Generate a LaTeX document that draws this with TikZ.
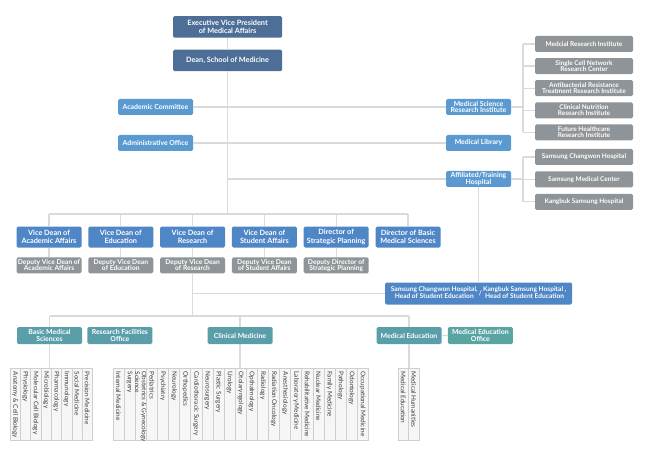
\documentclass[tikz,border=0pt]{standalone}
\usepackage{fontspec}
\setmainfont{Lato}
\usetikzlibrary{positioning,calc}
\definecolor{chief}{HTML}{4D6E96}
\definecolor{vdean}{HTML}{4E86C6}
\definecolor{sideunit}{HTML}{5A9AD1}
\definecolor{affil}{HTML}{8E9497}
\definecolor{school}{HTML}{5A9EAA}
\definecolor{office}{HTML}{5AA4A2}
\definecolor{wire}{HTML}{DADADA}
\definecolor{colfill}{HTML}{F6F6F6}
\definecolor{colline}{HTML}{CFCFCF}
\definecolor{deptink}{HTML}{3C3C3C}
\tikzset{
  every node/.style={font=\fontsize{7.3}{8.6}\selectfont\bfseries,text=white},
  box/.style={rounded corners=1.5pt,fill=vdean,align=center,inner sep=1pt,minimum width=65pt,minimum height=21pt},
  chiefbox/.style={box,fill=chief,minimum width=109pt,minimum height=21.5pt},
  sidebox/.style={box,fill=sideunit,minimum height=16pt,font=\fontsize{6.9}{6.4}\selectfont\bfseries},
  affilbox/.style={box,fill=affil,minimum width=98pt,minimum height=16pt,font=\fontsize{6.5}{6.1}\selectfont\bfseries},
  deputy/.style={box,fill=affil,minimum height=16pt,font=\fontsize{6.7}{6.2}\selectfont\bfseries},
  schoolbox/.style={box,fill=school,minimum height=17pt,font=\fontsize{6.9}{6.6}\selectfont\bfseries},
  link/.style={draw=wire,line width=1.2pt},
  deptcol/.style={draw=colline,fill=colfill,line width=0.5pt},
  dept/.style={rotate=-90,anchor=west,inner sep=0pt,align=left,text=deptink,font=\fontsize{6.4}{5}\selectfont},
}

\begin{document}
\begin{tikzpicture}[x=1pt,y=-1pt,node distance=6pt and 6.4pt]
\useasboundingbox (0,0) rectangle (650,457);

\node[chiefbox] (evp) at (227.5,27) {Executive Vice President\\of Medical Affairs};
\node[chiefbox] (dean) at (227.5,60.5) {Dean, School of Medicine};

\node[sidebox,minimum width=75pt] (ac) at (155.5,107) {Academic Committee};
\node[sidebox,minimum width=75pt] (ao) at (155.5,143) {Administrative Office};
\node[sidebox] (msri) at (478.5,107) {Medical Science\\Research Institute};
\node[sidebox] (lib) at (478.5,143) {Medical Library};
\node[sidebox] (ath) at (478.5,179) {Affiliated/Training\\Hospital};

\node[affilbox] (ri1) at (584,44) {Medcial Research Institute};
\node[affilbox,below=5.7pt of ri1] (ri2) {Single Cell Network\\Research Center};
\node[affilbox,below=5.7pt of ri2] (ri3) {Antibacterial Resistance\\Treatment Research Institute};
\node[affilbox,below=5.7pt of ri3] (ri4) {Clinical Nutrition\\Research Institute};
\node[affilbox,below=5.7pt of ri4] (ri5) {Future Healthcare\\Research Institute};
\node[affilbox] (hp1) at (584,157) {Samsung Changwon Hospital};
\node[affilbox,below=of hp1] (hp2) {Samsung Medical Center};
\node[affilbox,below=of hp2] (hp3) {Kangbuk Samsung Hospital};

\node[box] (vd1) at (49,237) {Vice Dean of\\Academic Affairs};
\node[box,right=of vd1] (vd2) {Vice Dean of\\Education};
\node[box,right=of vd2] (vd3) {Vice Dean of\\Research};
\node[box,right=of vd3] (vd4) {Vice Dean of\\Student Affairs};
\node[box,right=of vd4] (vd5) {Director of\\Strategic Planning};
\node[box,right=of vd5] (vd6) {Director of Basic\\Medical Sciences};
\node[deputy,below=9.5pt of vd1] (dp1) {Deputy Vice Dean of\\Academic Affairs};
\node[deputy,below=9.5pt of vd2] (dp2) {Deputy Vice Dean\\of Education};
\node[deputy,below=9.5pt of vd3] (dp3) {Deputy Vice Dean\\of Research};
\node[deputy,below=9.5pt of vd4] (dp4) {Deputy Vice Dean\\of Student Affairs};
\node[deputy,below=9.5pt of vd5] (dp5) {Deputy Director of\\Strategic Planning};

\node[box,minimum width=187pt,minimum height=22pt,font=\fontsize{6.6}{7}\selectfont\bfseries] (head) at (478.5,293.5)
  {\begin{tabular}{@{}c@{}}Samsung Changwon Hospital,\\Head of Student Education\end{tabular}\,/\,\begin{tabular}{@{}c@{}}Kangbuk Samsung Hospital ,\\Head of Student Education\end{tabular}};

\node[schoolbox] (bms) at (49.5,335.5) {Basic Medical\\Sciences};
\node[schoolbox,right=5pt of bms] (rfo) {Research Facilities\\Office};
\node[schoolbox] (cm) at (240,335.5) {Clinical Medicine};
\node[schoolbox] (med) at (409,335.5) {Medical Education};
\node[schoolbox,fill=office,right=6pt of med] (meo) {Medical Education\\Office};

\coordinate (vbar) at (0,214);
\coordinate (sbar) at (0,316);
\coordinate (rbar) at (523,0);
\coordinate (coltop) at (0,368);

\draw[link] (evp) -- (dean);
\draw[link] (dean.south) -- (dean.south |- vbar);
\draw[link] (ac.east) -- (msri.west);
\draw[link] (ao.east) -- (lib.west);
\draw[link] (ath.west) -- (ath.west -| dean.south);
\draw[link] (msri.east) -- (msri.east -| rbar);
\draw[link] (ath.east) -- (ath.east -| rbar);
\draw[link] (ri1.west -| rbar) -- (ri5.west -| rbar);
\draw[link] (hp1.west -| rbar) -- (hp3.west -| rbar);
\foreach \n in {ri1,ri2,ri3,ri4,ri5,hp1,hp2,hp3}{\draw[link] (\n.west) -- (\n.west -| rbar);}
\draw[link] (vd1.north |- vbar) -- (vd6.north |- vbar);
\foreach \i in {1,...,6}{\draw[link] (vd\i.north) -- (vd\i.north |- vbar);}
\foreach \i in {1,...,5}{\draw[link] (vd\i.south) -- (dp\i.north);}
\draw[link] (dp3.south) -- (dp3.south |- sbar);
\draw[link] (head.west) -- (head.west -| dp3.south);
\draw[link] (ath.south) -- (head.north -| ath.south);
\draw[link] (bms.north |- sbar) -- (med.north |- sbar);
\foreach \n in {bms,cm,med}{\draw[link] (\n.north) -- (\n.north |- sbar);}
\draw[link] (med.east) -- (meo.west);
\foreach \n in {bms,cm,med}{\draw[link] (\n.south) -- (\n.south |- coltop);}

\foreach \dname [count=\i] in {Anatomy \& Cell Biology,Physiology,Molecular Cell Biology,Microbiology,Pharmacology,Immunology,Social Medicine,Precision Medicine}{
  \pgfmathsetmacro\cx{10+(\i-1)*10.3}
  \draw[deptcol] (\cx,368) rectangle ++(10.3,72);
  \node[dept] (bd\i) at (\cx+5.15,371.5) {\dname};
}
\foreach \dname [count=\i] in {Internal Medicine,Surgery,{Obstetrics \& Gynecology\\Science},Pediatrics,Psychiatry,Neurology,Orthopedics,Cardiothoracic Surgery,Neurosurgery,Plastic Surgery,Urology,Otolaryngology,Opthalmology,Radiology,Radiation Oncology,Anesthesiology,Laboratory Medicine,Rehabilitative Medicine,Nuclear Medicine,Family Medicine,Pathology,Odontology,Occupational Medicine}{
  \pgfmathsetmacro\cx{113+(\i-1)*11.1}
  \draw[deptcol] (\cx,368) rectangle ++(11.1,72);
  \node[dept] (cd\i) at (\cx+5.55,371.5) {\dname};
}
\foreach \dname [count=\i] in {Medical Education,Medical Humanities}{
  \pgfmathsetmacro\cx{398+(\i-1)*10.5}
  \draw[deptcol] (\cx,368) rectangle ++(10.5,72);
  \node[dept] (ed\i) at (\cx+5.25,371.5) {\dname};
}

\end{tikzpicture}
\end{document}
